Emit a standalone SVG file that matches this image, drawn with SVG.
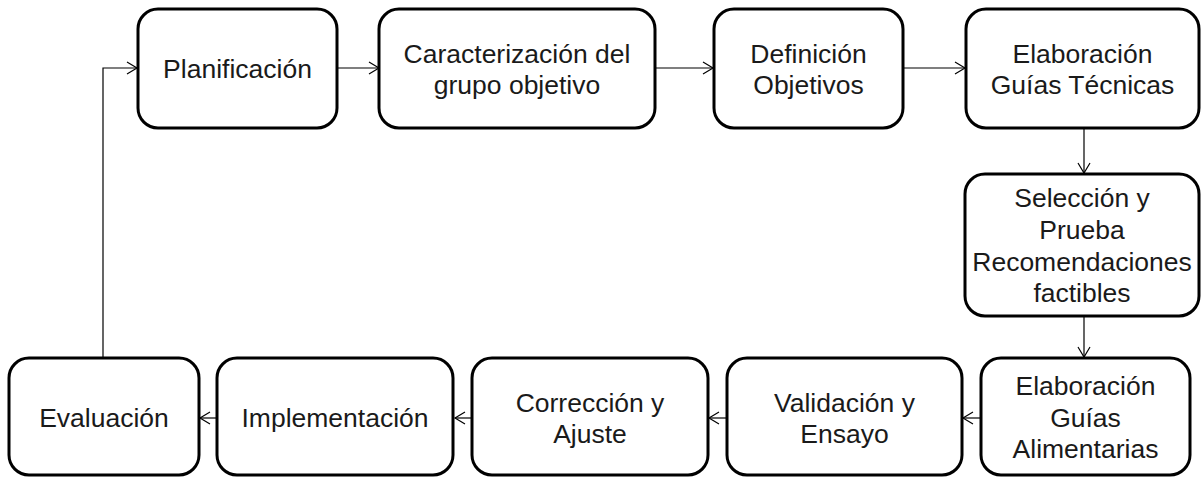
<svg xmlns="http://www.w3.org/2000/svg" width="1201" height="477" viewBox="0 0 1201 477">
<style>
.box{fill:#fff;stroke:#000;stroke-width:3}
.t{font-family:"Liberation Sans",Arial,sans-serif;font-size:26.5px;fill:#1a1a1a;text-anchor:middle}
.c{fill:none;stroke:#000;stroke-width:1.2}
</style>
<defs>
<marker id="ah" markerUnits="userSpaceOnUse" markerWidth="14" markerHeight="14" refX="11" refY="7" orient="auto">
<path d="M1,1 L11,7 L1,13" fill="none" stroke="#000" stroke-width="1.2"/>
</marker>
</defs>
<rect width="1201" height="477" fill="#fff"/>
<g id="connectors">
<path class="c" d="M337,68 H379" marker-end="url(#ah)"/>
<path class="c" d="M655,68 H713" marker-end="url(#ah)"/>
<path class="c" d="M903,68 H965" marker-end="url(#ah)"/>
<path class="c" d="M1084,128 V173" marker-end="url(#ah)"/>
<path class="c" d="M1084,316 V357" marker-end="url(#ah)"/>
<path class="c" d="M981,418 H963" marker-end="url(#ah)"/>
<path class="c" d="M727,418 H709" marker-end="url(#ah)"/>
<path class="c" d="M472,418 H455" marker-end="url(#ah)"/>
<path class="c" d="M216,418 H200" marker-end="url(#ah)"/>
<path class="c" d="M103,358 V68 H137" marker-end="url(#ah)"/>
</g>
<g id="planificacion">
<rect class="box" x="138" y="9" width="199" height="119" rx="20"/>
<text class="t" x="237.5" y="78">Planificación</text>
</g>
<g id="caracterizacion">
<rect class="box" x="379" y="9" width="276" height="119" rx="20"/>
<text class="t" x="517" y="63">Caracterización del</text>
<text class="t" x="517" y="94">grupo objetivo</text>
</g>
<g id="definicion">
<rect class="box" x="714" y="9" width="189" height="119" rx="20"/>
<text class="t" x="808.5" y="63">Definición</text>
<text class="t" x="808.5" y="94">Objetivos</text>
</g>
<g id="guias-tecnicas">
<rect class="box" x="966" y="9" width="233" height="119" rx="20"/>
<text class="t" x="1082.5" y="63">Elaboración</text>
<text class="t" x="1082.5" y="94">Guías Técnicas</text>
</g>
<g id="seleccion">
<rect class="box" x="965" y="174" width="234" height="142" rx="20"/>
<text class="t" x="1082" y="207">Selección y</text>
<text class="t" x="1082" y="239">Prueba</text>
<text class="t" x="1082" y="271">Recomendaciones</text>
<text class="t" x="1082" y="302">factibles</text>
</g>
<g id="guias-alimentarias">
<rect class="box" x="981" y="358" width="209" height="117" rx="20"/>
<text class="t" x="1085.5" y="395">Elaboración</text>
<text class="t" x="1085.5" y="427">Guías</text>
<text class="t" x="1085.5" y="458">Alimentarias</text>
</g>
<g id="validacion">
<rect class="box" x="727" y="358" width="235" height="117" rx="20"/>
<text class="t" x="844.5" y="412">Validación y</text>
<text class="t" x="844.5" y="443">Ensayo</text>
</g>
<g id="correccion">
<rect class="box" x="472" y="358" width="236" height="117" rx="20"/>
<text class="t" x="590" y="412">Corrección y</text>
<text class="t" x="590" y="443">Ajuste</text>
</g>
<g id="implementacion">
<rect class="box" x="217" y="358" width="236" height="117" rx="20"/>
<text class="t" x="335" y="427">Implementación</text>
</g>
<g id="evaluacion">
<rect class="box" x="9" y="358" width="190" height="117" rx="20"/>
<text class="t" x="104" y="427">Evaluación</text>
</g>
</svg>
